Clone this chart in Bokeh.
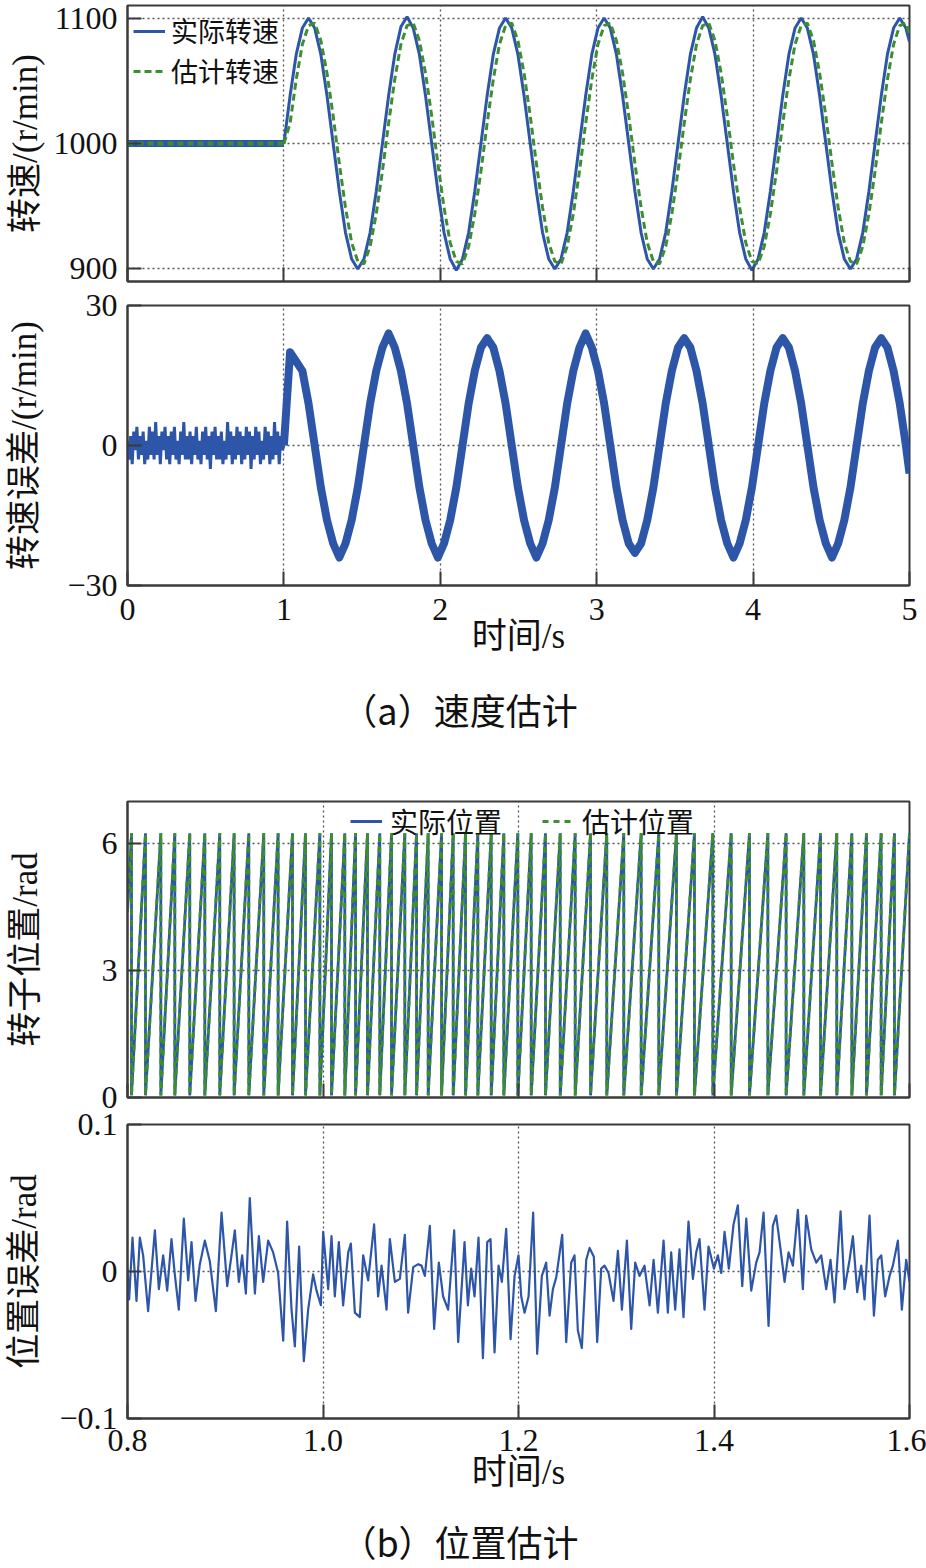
from bokeh.plotting import figure
from bokeh.layouts import column
from bokeh.models import FixedTicker, Range1d, Legend, LegendItem, NumeralTickFormatter
from bokeh.embed import file_html
from bokeh.resources import INLINE
from bokeh.core.properties import value

# ---------------- data ----------------
# (a) speed estimation, 0-5 s
flat_t = [0.0, 1.0]
flat_speed = [1000, 1000]

step_t = [
    1.0000, 1.0394, 1.0788, 1.1181, 1.1575, 1.1969, 1.2363, 1.2756, 1.3150, 1.3544, 1.3938, 1.4331, 1.4725, 1.5119, 1.5513, 1.5906,
    1.6300, 1.6694, 1.7088, 1.7481, 1.7875, 1.8269, 1.8663, 1.9056, 1.9450, 1.9844, 2.0238, 2.0631, 2.1025, 2.1419, 2.1813, 2.2206,
    2.2600, 2.2994, 2.3388, 2.3781, 2.4175, 2.4569, 2.4963, 2.5356, 2.5750, 2.6144, 2.6538, 2.6931, 2.7325, 2.7719, 2.8113, 2.8506,
    2.8900, 2.9294, 2.9688, 3.0081, 3.0475, 3.0869, 3.1263, 3.1656, 3.2050, 3.2444, 3.2838, 3.3231, 3.3625, 3.4019, 3.4413, 3.4806,
    3.5200, 3.5594, 3.5988, 3.6381, 3.6775, 3.7169, 3.7563, 3.7956, 3.8350, 3.8744, 3.9138, 3.9531, 3.9925, 4.0319, 4.0713, 4.1106,
    4.1500, 4.1894, 4.2288, 4.2681, 4.3075, 4.3469, 4.3863, 4.4256, 4.4650, 4.5044, 4.5438, 4.5831, 4.6225, 4.6619, 4.7013, 4.7406,
    4.7800, 4.8194, 4.8588, 4.8981, 4.9375, 4.9769, 5.0000,
]

speed_actual = [
    1000, 1038, 1071, 1092, 1100, 1092, 1071, 1038, 1000, 962, 929, 908, 900, 908, 929, 962,
    1000, 1038, 1071, 1093, 1101, 1092, 1071, 1038, 1000, 962, 929, 908, 899, 908, 929, 962,
    1000, 1038, 1071, 1092, 1100, 1092, 1071, 1038, 1000, 962, 929, 908, 900, 908, 929, 962,
    1000, 1038, 1071, 1092, 1100, 1092, 1071, 1038, 1000, 962, 929, 908, 900, 908, 929, 962,
    1000, 1038, 1071, 1092, 1101, 1092, 1071, 1038, 1000, 962, 929, 908, 899, 908, 929, 962,
    1000, 1038, 1071, 1092, 1100, 1092, 1071, 1038, 1000, 962, 929, 908, 900, 908, 929, 962,
    1000, 1038, 1071, 1092, 1100, 1092, 1081,
]

speed_estimated = [
    1000, 1016, 1051, 1079, 1094, 1096, 1082, 1056, 1022, 984, 949, 921, 906, 904, 918, 944,
    978, 1016, 1051, 1079, 1094, 1096, 1082, 1056, 1022, 984, 949, 921, 906, 904, 918, 944,
    978, 1016, 1051, 1079, 1094, 1096, 1082, 1056, 1022, 984, 949, 921, 906, 904, 918, 944,
    978, 1016, 1051, 1079, 1094, 1096, 1082, 1056, 1022, 984, 949, 921, 906, 904, 918, 944,
    978, 1016, 1051, 1079, 1094, 1096, 1082, 1056, 1022, 984, 949, 921, 906, 904, 918, 944,
    978, 1016, 1051, 1079, 1094, 1096, 1082, 1056, 1022, 984, 949, 921, 906, 904, 918, 944,
    978, 1016, 1051, 1079, 1094, 1096, 1088,
]

noise_t = [
    0.00, 0.01, 0.02, 0.03, 0.04, 0.05, 0.06, 0.07, 0.08, 0.09,
    0.10, 0.11, 0.12, 0.13, 0.14, 0.15, 0.16, 0.17, 0.18, 0.19,
    0.20, 0.21, 0.22, 0.23, 0.24, 0.25, 0.26, 0.27, 0.28, 0.29,
    0.30, 0.31, 0.32, 0.33, 0.34, 0.35, 0.36, 0.37, 0.38, 0.39,
    0.40, 0.41, 0.42, 0.43, 0.44, 0.45, 0.46, 0.47, 0.48, 0.49,
    0.50, 0.51, 0.52, 0.53, 0.54, 0.55, 0.56, 0.57, 0.58, 0.59,
    0.60, 0.61, 0.62, 0.63, 0.64, 0.65, 0.66, 0.67, 0.68, 0.69,
    0.70, 0.71, 0.72, 0.73, 0.74, 0.75, 0.76, 0.77, 0.78, 0.79,
    0.80, 0.81, 0.82, 0.83, 0.84, 0.85, 0.86, 0.87, 0.88, 0.89,
    0.90, 0.91, 0.92, 0.93, 0.94, 0.95, 0.96, 0.97, 0.98, 0.99,
]
noise_err = [
    1, -3, 2, -4, 3, -1, 4, -3, 2, -2,
    3, -4, 1, -3, 4, -2, 3, -3, 5, -2,
    2, -4, 3, -1, 4, -3, 2, -4, 3, -2,
    4, -3, 1, -4, 3, -2, 5, -3, 2, -3,
    3, -4, 2, -2, 4, -3, 1, -4, 3, -2,
    4, -3, 2, -5, 3, -2, 4, -3, 2, -3,
    3, -4, 1, -3, 5, -2, 3, -4, 2, -3,
    4, -2, 3, -4, 2, -3, 4, -2, 3, -5,
    2, -3, 4, -2, 3, -4, 1, -3, 4, -2,
    3, -4, 2, -3, 5, -2, 3, -4, 2, -1,
]

speed_error = [
    0, 20, 18, 16, 9, 0, -9, -16, -21, -24, -21, -16, -9, 0, 9, 16,
    21, 24, 21, 16, 9, 0, -9, -16, -21, -24, -21, -16, -9, 0, 9, 16,
    21, 23, 21, 16, 9, 0, -9, -16, -21, -24, -21, -16, -9, 0, 9, 16,
    21, 24, 21, 16, 9, 0, -9, -16, -21, -23, -21, -16, -9, 0, 9, 16,
    21, 23, 21, 16, 9, 0, -9, -16, -21, -24, -21, -16, -9, 0, 9, 16,
    21, 23, 21, 16, 9, 0, -9, -16, -21, -24, -21, -16, -9, 0, 9, 16,
    21, 23, 21, 16, 9, 0, -6,
]

# (b) position estimation, 0.8-1.6 s
pos_start = 4.4          # rad at t = 0.8 s
pos_top = 6.25           # rad just before each wrap
pos_bottom = 0.05        # rad just after each wrap
pos_wraps = [
    0.8041, 0.8184, 0.8341, 0.8484, 0.8637, 0.8791, 0.8944, 0.9091, 0.9241, 0.9394,
    0.9541, 0.9688, 0.9821, 0.9968, 1.0087, 1.0223, 1.0333, 1.0455, 1.0581, 1.0701,
    1.0837, 1.0957, 1.1076, 1.1213, 1.1332, 1.1458, 1.1584, 1.1721, 1.1850, 1.1993,
    1.2130, 1.2276, 1.2427, 1.2580, 1.2737, 1.2903, 1.3077, 1.3255, 1.3435, 1.3616,
    1.3800, 1.3988, 1.4176, 1.4363, 1.4551, 1.4738, 1.4919, 1.5090, 1.5256, 1.5410,
    1.5560, 1.5710, 1.5846, 1.6000,
]

pos_err_samples = [
    (0.8000, 0.002), (0.8017, -0.019), (0.8051, 0.023), (0.8092, -0.020), (0.8126, 0.023),
    (0.8160, 0.011), (0.8211, -0.027), (0.8280, 0.028), (0.8321, -0.012), (0.8365, 0.011),
    (0.8406, -0.013), (0.8450, 0.022), (0.8484, -0.002), (0.8525, -0.026), (0.8576, 0.036),
    (0.8621, -0.006), (0.8655, 0.020), (0.8696, -0.020), (0.8740, 0.005), (0.8791, 0.021),
    (0.8842, 0.007), (0.8904, -0.027), (0.8962, 0.040), (0.9020, -0.010), (0.9064, 0.011),
    (0.9098, 0.028), (0.9139, -0.007), (0.9173, 0.011), (0.9211, -0.015), (0.9251, 0.050),
    (0.9303, -0.015), (0.9344, 0.024), (0.9388, -0.007), (0.9439, 0.021), (0.9490, 0.013),
    (0.9541, -0.001), (0.9593, -0.047), (0.9633, 0.034), (0.9678, -0.026), (0.9712, -0.051),
    (0.9756, 0.017), (0.9804, -0.061), (0.9848, -0.026), (0.9899, -0.002), (0.9934, -0.013),
    (0.9978, -0.023), (1.0002, 0.027), (1.0053, -0.012), (1.0087, 0.024), (1.0121, -0.017),
    (1.0162, 0.020), (1.0206, -0.023), (1.0258, 0.013), (1.0285, 0.019), (1.0326, -0.028),
    (1.0377, -0.031), (1.0411, 0.011), (1.0462, -0.006), (1.0523, 0.032), (1.0564, -0.017),
    (1.0599, 0.004), (1.0650, -0.026), (1.0684, 0.022), (1.0735, -0.007), (1.0786, -0.005),
    (1.0837, 0.025), (1.0871, -0.028), (1.0923, 0.003), (1.0974, 0.005), (1.1008, 0.004),
    (1.1042, -0.003), (1.1093, 0.031), (1.1137, -0.039), (1.1185, 0.006), (1.1229, -0.017),
    (1.1280, -0.026), (1.1342, 0.028), (1.1383, -0.048), (1.1448, 0.020), (1.1482, -0.023),
    (1.1516, 0.002), (1.1550, -0.017), (1.1591, 0.023), (1.1636, -0.059), (1.1680, 0.020),
    (1.1714, 0.022), (1.1755, -0.055), (1.1796, 0.004), (1.1830, -0.007), (1.1874, 0.029),
    (1.1919, -0.046), (1.1960, -0.003), (1.2000, 0.011), (1.2028, -0.017), (1.2062, -0.028),
    (1.2103, -0.017), (1.2150, 0.040), (1.2191, -0.056), (1.2239, -0.003), (1.2283, 0.006),
    (1.2318, -0.030), (1.2352, -0.012), (1.2386, -0.004), (1.2447, 0.025), (1.2488, -0.048),
    (1.2539, 0.006), (1.2573, 0.011), (1.2607, -0.040), (1.2648, -0.052), (1.2693, 0.008),
    (1.2727, 0.016), (1.2771, 0.010), (1.2805, -0.048), (1.2846, 0.002), (1.2880, 0.004),
    (1.2921, -0.001), (1.2972, -0.020), (1.3017, 0.014), (1.3058, -0.026), (1.3109, 0.021),
    (1.3153, -0.039), (1.3194, 0.006), (1.3238, -0.003), (1.3289, 0.004), (1.3341, -0.023),
    (1.3382, 0.008), (1.3426, -0.028), (1.3484, 0.021), (1.3528, -0.028), (1.3562, 0.013),
    (1.3603, -0.026), (1.3647, 0.015), (1.3688, -0.031), (1.3739, 0.034), (1.3784, -0.005),
    (1.3818, 0.013), (1.3852, 0.022), (1.3903, -0.026), (1.3944, 0.017), (1.3999, 0.002),
    (1.4040, 0.011), (1.4074, -0.001), (1.4108, 0.027), (1.4152, 0.002), (1.4200, 0.032),
    (1.4244, 0.045), (1.4289, -0.010), (1.4330, 0.036), (1.4381, -0.013), (1.4432, 0.006),
    (1.4466, 0.013), (1.4507, 0.040), (1.4558, -0.037), (1.4602, 0.031), (1.4636, 0.038),
    (1.4681, 0.015), (1.4722, -0.007), (1.4763, 0.013), (1.4807, 0.004), (1.4858, 0.042),
    (1.4909, -0.012), (1.4943, 0.038), (1.4995, 0.015), (1.5046, 0.006), (1.5097, 0.011),
    (1.5148, -0.012), (1.5192, 0.008), (1.5233, -0.021), (1.5295, 0.041), (1.5335, -0.012),
    (1.5387, 0.008), (1.5421, 0.024), (1.5465, -0.014), (1.5506, 0.004), (1.5540, -0.019),
    (1.5591, 0.038), (1.5636, -0.030), (1.5676, 0.008), (1.5711, 0.011), (1.5751, -0.017),
    (1.5796, -0.003), (1.5830, 0.004), (1.5881, 0.021), (1.5922, -0.026), (1.5966, 0.008),
    (1.6000, -0.007),
]

speed_xticks = [0, 1, 2, 3, 4, 5]
speed_yticks = [900, 1000, 1100]
err_yticks = [-30, 0, 30]
pos_xticks = [0.8, 1.0, 1.2, 1.4, 1.6]
pos_yticks = [0, 3, 6]
perr_yticks = [-0.1, 0, 0.1]

# ---------------- style ----------------
BLUE = "#2d55a8"
GREEN = "#3d8f2e"
GRID = "#555555"
FRAME = "#3a3a3a"
NUM_FONT = "'Liberation Serif'"
MIX_FONT = "'Liberation Serif', 'Noto Sans CJK SC'"
CJK_FONT = "'Noto Sans CJK SC'"
W = 926
LEFT = 127
RIGHT = 17


def base_fig(height, top, bottom, xr, yr, xticks, yticks):
    p = figure(width=W, height=height, x_range=Range1d(*xr), y_range=Range1d(*yr),
               output_backend="svg", toolbar_location=None,
               min_border_left=LEFT, min_border_right=RIGHT,
               min_border_top=top, min_border_bottom=bottom)
    p.outline_line_color = FRAME
    p.outline_line_width = 2
    p.background_fill_color = "white"
    p.border_fill_color = "white"
    p.xaxis.ticker = FixedTicker(ticks=xticks)
    p.yaxis.ticker = FixedTicker(ticks=yticks)
    for ax in list(p.xaxis) + list(p.yaxis):
        ax.major_tick_in = 14
        ax.major_tick_out = 0
        ax.minor_tick_line_color = None
        ax.major_tick_line_color = FRAME
        ax.major_tick_line_width = 2
        ax.axis_line_color = FRAME
        ax.axis_line_width = 2
        ax.major_label_text_font = NUM_FONT
        ax.major_label_text_font_size = "32px"
        ax.major_label_text_color = "#111111"
        ax.axis_label_text_font = MIX_FONT
        ax.axis_label_text_font_size = "35px"
        ax.axis_label_text_font_style = "normal"
        ax.axis_label_text_color = "#111111"
    p.yaxis.major_label_standoff = 10
    p.xaxis.major_label_standoff = 13
    p.grid.grid_line_color = GRID
    p.grid.grid_line_dash = "2 3"
    p.grid.grid_line_width = 1.3
    return p


def hide_xlabels(p):
    p.xaxis.major_label_text_font_size = "1px"
    p.xaxis.major_label_text_color = None
    p.xaxis.major_label_standoff = 0


def one_legend(label, renderer, loc, size):
    return Legend(items=[LegendItem(label=label, renderers=[renderer])],
                  location=loc, orientation="vertical",
                  background_fill_alpha=0, border_line_alpha=0,
                  label_text_font=CJK_FONT, label_text_font_size=size,
                  label_text_color="#111111", glyph_width=32, glyph_height=30,
                  label_height=30, label_standoff=6, spacing=0, padding=0, margin=0)


def caption_fig(height, text, ypos):
    p = figure(width=W, height=height, x_range=Range1d(LEFT, W - RIGHT), y_range=Range1d(0, height),
               output_backend="svg", toolbar_location=None,
               min_border_left=LEFT, min_border_right=RIGHT, min_border_top=0, min_border_bottom=0)
    p.axis.visible = False
    p.grid.visible = False
    p.outline_line_color = None
    p.text(x=[459], y=[ypos], text=[text], text_font=value(CJK_FONT),
           text_font_size="36px", text_align="center", text_baseline="middle",
           text_color="#111111")
    return p


# ---------------- (a) speed ----------------
p1 = base_fig(286, 5, 5, (0, 5), (890, 1110), speed_xticks, speed_yticks)
hide_xlabels(p1)
p1.yaxis.axis_label = "转速/(r/min)"
p1.yaxis.axis_label_standoff = 6
p1.line(flat_t, flat_speed, line_color=BLUE, line_width=7)
p1.line(flat_t, flat_speed, line_color=GREEN, line_width=4, line_dash="6 4")
r_act = p1.line(step_t, speed_actual, line_color=BLUE, line_width=3)
r_est = p1.line(step_t, speed_estimated, line_color=GREEN, line_width=3, line_dash="7 4")
p1.add_layout(one_legend("实际转速", r_act, (6, 231), "27px"))
p1.add_layout(one_legend("估计转速", r_est, (6, 191), "27px"))

p2 = base_fig(385, 19, 86, (0, 5), (-30, 30), speed_xticks, err_yticks)
p2.yaxis.major_label_overrides = {-30: "−30", 0: "0", 30: "30"}
p2.yaxis.axis_label = "转速误差/(r/min)"
p2.yaxis.axis_label_standoff = 20
p2.xaxis.axis_label = "时间/s"
p2.xaxis.axis_label_standoff = -6
p2.line(noise_t + step_t[:1], noise_err + speed_error[:1], line_color=BLUE, line_width=3)
p2.line(step_t, speed_error, line_color=BLUE, line_width=8, line_join="round")

cap1 = caption_fig(114, "（a）速度估计", 77)

# ---------------- (b) position ----------------
pos_x = [pos_xticks[0]]
pos_y = [pos_start]
for w in pos_wraps[:-1]:
    pos_x += [w, w]
    pos_y += [pos_top, pos_bottom]
pos_x.append(pos_wraps[-1])
pos_y.append(pos_top)

p3 = base_fig(333, 16, 21, (0.8, 1.6), (0, 7), pos_xticks, pos_yticks)
hide_xlabels(p3)
p3.yaxis.axis_label = "转子位置/rad"
p3.yaxis.axis_label_standoff = 54
r_pa = p3.line(pos_x, pos_y, line_color=BLUE, line_width=2.8)
r_pe = p3.line(pos_x, pos_y, line_color=GREEN, line_width=2.8, line_dash="6 5")
leg3 = Legend(items=[LegendItem(label="实际位置", renderers=[r_pa]),
                     LegendItem(label="估计位置", renderers=[r_pe])],
              location=(223, 256), orientation="horizontal",
              background_fill_alpha=0, border_line_alpha=0,
              label_text_font=CJK_FONT, label_text_font_size="28px",
              label_text_color="#111111", glyph_width=32, glyph_height=30,
              label_height=30, label_standoff=8, spacing=40, padding=0, margin=0)
p3.add_layout(leg3)

perr_t = [s[0] for s in pos_err_samples]
perr_v = [s[1] for s in pos_err_samples]
p4 = base_fig(408, 24, 90, (0.8, 1.6), (-0.1, 0.1), pos_xticks, perr_yticks)
p4.margin = (-18, 0, 0, 0)
p4.border_fill_alpha = 0
p4.xaxis.formatter = NumeralTickFormatter(format="0.0")
p4.xaxis.major_label_standoff = 11
p4.yaxis.major_label_overrides = {-0.1: "−0.1", 0: "0", 0.1: "0.1"}
p4.yaxis.axis_label = "位置误差/rad"
p4.yaxis.axis_label_standoff = 12
p4.xaxis.axis_label = "时间/s"
p4.xaxis.axis_label_standoff = -1
p4.line(perr_t, perr_v, line_color=BLUE, line_width=2.2, line_join="round")

cap2 = caption_fig(59, "（b）位置估计", 27)

layout = column(p1, p2, cap1, p3, p4, cap2, spacing=0)
open("out.html", "w").write(file_html(layout, INLINE))
